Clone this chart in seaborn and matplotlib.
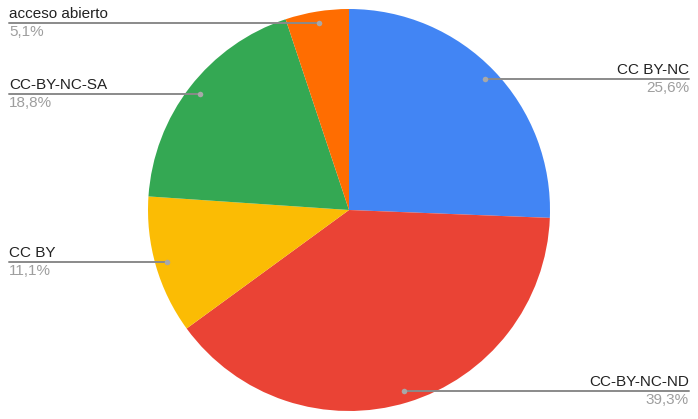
import numpy as np
import matplotlib
matplotlib.use("Agg")
from matplotlib import pyplot as plt
import seaborn as sns

# data (clockwise from 12 o'clock)
labels = ['CC BY-NC', 'CC-BY-NC-ND', 'CC BY', 'CC-BY-NC-SA', 'acceso abierto']
values = [25.6, 39.3, 11.1, 18.8, 5.1]
pct_text = ['25,6%', '39,3%', '11,1%', '18,8%', '5,1%']
colors = ['#4285F4', '#EA4335', '#FBBC04', '#34A853', '#FF6D01']

sns.set_theme(style='white')
plt.rcParams['font.family'] = ['Liberation Sans', 'DejaVu Sans']

W, H = 698, 419
fig = plt.figure(figsize=(W / 100, H / 100), dpi=100)
ax = fig.add_axes([0, 0, 1, 1])

cx, cy, R = 349, H - 210, 201
wedges, _ = ax.pie(values, colors=colors, startangle=90, counterclock=False,
                   center=(cx, cy), radius=R, frame=True,
                   wedgeprops={'linewidth': 0, 'edgecolor': 'none'})
ax.set_xlim(0, W)
ax.set_ylim(0, H)
ax.set_aspect('equal')
ax.axis('off')

# leader lines + labels
for w, lab, pt in zip(wedges, labels, pct_text):
    ang = np.deg2rad((w.theta1 + w.theta2) / 2)
    dx, dy = cx + 0.94 * R * np.cos(ang), cy + 0.94 * R * np.sin(ang)
    if dx > cx:
        x_end, ha = 689, 'right'
    else:
        x_end, ha = 9, 'left'
    ax.plot([dx, x_end], [dy, dy], color='#8a8a8a', lw=1.4, zorder=3)
    ax.plot(dx, dy, 'o', ms=4, color='#a8a8a8', mec='none', zorder=4)
    ax.text(x_end, dy + 2, lab, ha=ha, va='bottom', fontsize=11, color='#222222')
    ax.text(x_end, dy - 2, pt, ha=ha, va='top', fontsize=11, color='#9e9e9e')

fig.savefig('out.png', dpi=100)
